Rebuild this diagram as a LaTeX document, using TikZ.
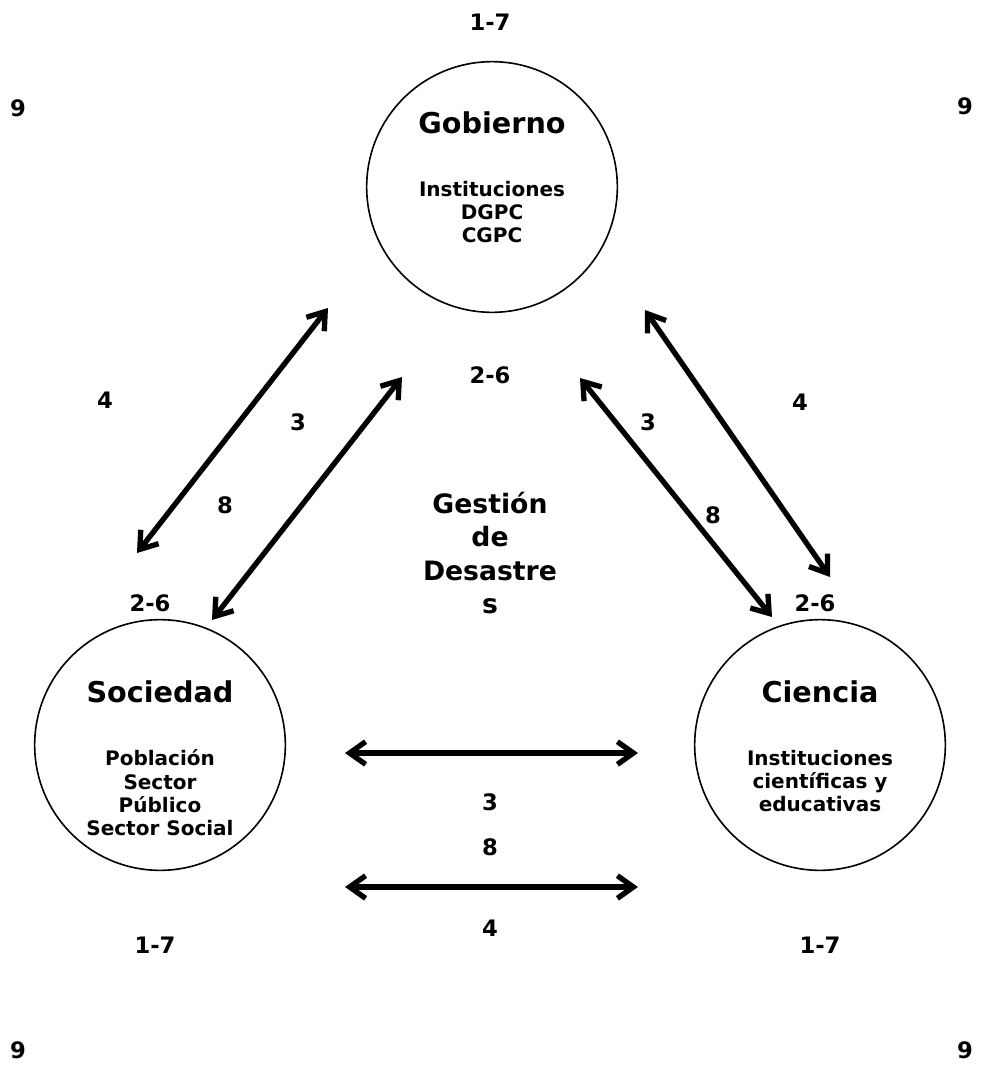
\documentclass[tikz,border=0pt]{standalone}
\usepackage{fontspec}
\setmainfont{DejaVu Sans}
\usetikzlibrary{arrows.meta}

\tikzset{
    actor/.style={draw, circle, line width=1.2pt, minimum size=188pt, inner sep=0pt},
    title/.style={font=\fontsize{21.5}{25}\selectfont\bfseries},
    detail/.style={font=\fontsize{15}{17.5}\selectfont\bfseries, align=center},
    num/.style={font=\fontsize{17}{20}\selectfont\bfseries},
    link/.style={line width=4pt, line cap=round, {Straight Barb[length=12pt,width=17pt,line width=4pt]}-{Straight Barb[length=12pt,width=17pt,line width=4pt]}}
}

\begin{document}
\begin{tikzpicture}[x=0.75pt, y=-0.75pt]
        \useasboundingbox (0,0) rectangle (981,1078);

        % actors
        \node[actor] (gob) at (492,187) {};
        \node[actor] (soc) at (160,745) {};
        \node[actor] (cie) at (820,745) {};

        \node[title] (gobT) at (492,123) {Gobierno};
        \node[detail] (gobD) at (492,212) {Instituciones\\DGPC\\CGPC};
        \node[title] (socT) at (160,692) {Sociedad};
        \node[detail] (socD) at (160,793) {Población\\Sector\\Público\\Sector Social};
        \node[title] (cieT) at (820,692) {Ciencia};
        \node[detail] (cieD) at (820,781) {Instituciones\\científicas y\\educativas};

        % centre
        \node[font=\fontsize{20}{25}\selectfont\bfseries, align=center] (gd) at (490,553) {Gestión\\de\\Desastre\\s};

        % numbers
        \node[num] (n17a) at (490,22) {1-7};
        \node[num] (n17b) at (155,945) {1-7};
        \node[num] (n17c) at (820,945) {1-7};
        \node[num] (n9a) at (18,108) {9};
        \node[num] (n9b) at (965,106) {9};
        \node[num] (n9c) at (18,1050) {9};
        \node[num] (n9d) at (965,1050) {9};
        \node[num] (n26a) at (490,375) {2-6};
        \node[num] (n26b) at (150,603) {2-6};
        \node[num] (n26c) at (815,603) {2-6};
        \node[num] (n4a) at (105,400) {4};
        \node[num] (n3a) at (298,422) {3};
        \node[num] (n8a) at (225,505) {8};
        \node[num] (n3b) at (648,422) {3};
        \node[num] (n4b) at (800,402) {4};
        \node[num] (n8b) at (713,515) {8};
        \node[num] (n3c) at (490,802) {3};
        \node[num] (n8c) at (490,847) {8};
        \node[num] (n4c) at (490,928) {4};

        % arrow ends
        \coordinate (a1) at (137,553);
        \coordinate (b1) at (328,308);
        \coordinate (a2) at (212,620);
        \coordinate (b2) at (402,377);
        \coordinate (a3) at (580,378);
        \coordinate (b3) at (772,617);
        \coordinate (a4) at (645,310);
        \coordinate (b4) at (830,577);
        \coordinate (a5) at (345,753);
        \coordinate (b5) at (638,753);
        \coordinate (a6) at (345,887);
        \coordinate (b6) at (638,887);

        \draw[link] (a1) -- (b1);
        \draw[link] (a2) -- (b2);
        \draw[link] (a3) -- (b3);
        \draw[link] (a4) -- (b4);
        \draw[link] (a5) -- (b5);
        \draw[link] (a6) -- (b6);
    \end{tikzpicture}
\end{document}
